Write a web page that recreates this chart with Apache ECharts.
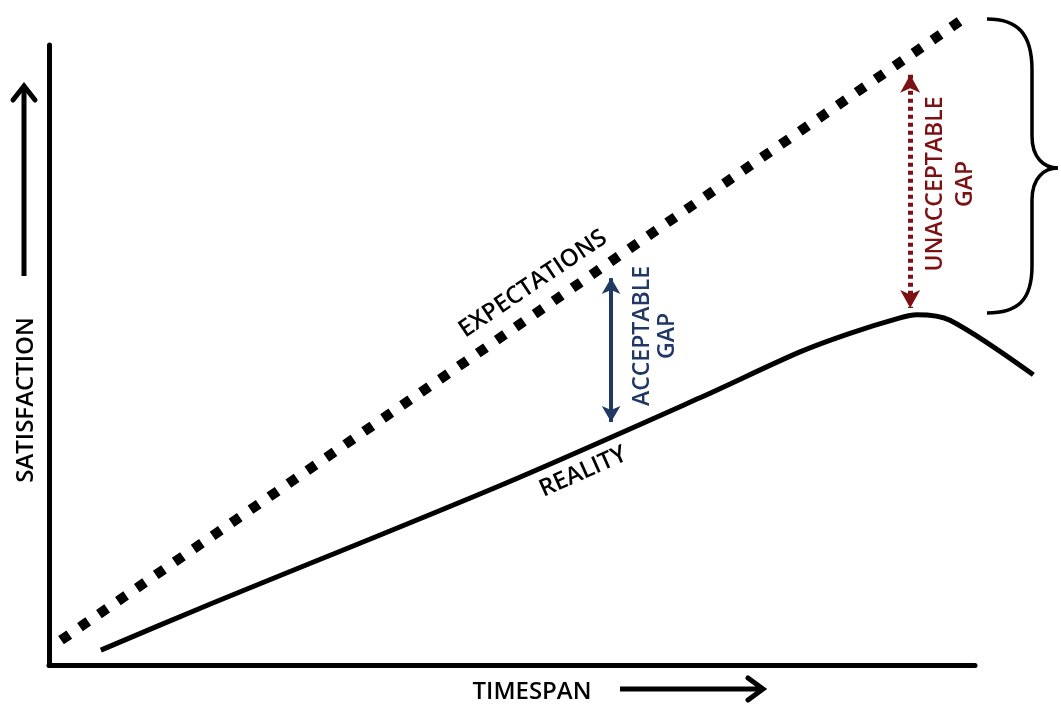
<!DOCTYPE html>
<html><head><meta charset="utf-8">
<script src="https://cdn.jsdelivr.net/npm/echarts@6/dist/echarts.min.js"></script>
<style>html,body{margin:0;padding:0;background:#fff}#c{width:1061px;height:705px}</style>
</head><body><div id="c"></div>
<script>
// Timespan (0-100) vs satisfaction (0-100), conceptual chart
const expectations = [[1.3, 4.0], [98.9, 104.4]];
const reality = [[5.6, 2.4], [16.4, 9.2], [48.8, 29.0], [70.3, 43.1], [81.1, 50.5], [86.5, 53.5], [91.9, 56.0], [93.7, 56.5], [97.3, 55.6], [106.3, 46.8]];
const acceptableGap = { x: 60.7, from: 62.4, to: 39.2 };
const unacceptableGap = { x: 93.0, from: 95.2, to: 57.6 };
const labels = { x: 'TIMESPAN', y: 'SATISFACTION', exp: 'EXPECTATIONS', real: 'REALITY', ok: 'ACCEPTABLE\nGAP', bad: 'UNACCEPTABLE\nGAP' };

const font = '"Open Sans", "Liberation Sans", sans-serif';
const F = '600 24px ' + font;
const F2 = '600 23px ' + font;
const chart = echarts.init(document.getElementById('c'), null, { renderer: 'canvas' });
const deg = Math.PI / 180;
const braceStyle = { stroke: '#000', lineWidth: 3.5, fill: null };
// grid 0 carries the visible axes (0..100); grid 1 has the same scale but extends further right
const gridLeft = 49, gridRight = 86, gridRightWide = 22, W = 1061;
const wideMax = 100 * (W - gridRightWide - gridLeft) / (W - gridRight - gridLeft);
const hiddenAxis = { show: false };
chart.setOption({
  animation: false,
  grid: [
    { left: gridLeft, right: gridRight, top: 45, bottom: 40 },
    { left: gridLeft, right: gridRightWide, top: 45, bottom: 40 }
  ],
  xAxis: [
    { type: 'value', gridIndex: 0, min: 0, max: 100, axisLine: { lineStyle: { color: '#000', width: 5 } }, axisTick: { show: false }, axisLabel: { show: false }, splitLine: { show: false } },
    Object.assign({ type: 'value', gridIndex: 1, min: 0, max: wideMax }, hiddenAxis)
  ],
  yAxis: [
    { type: 'value', gridIndex: 0, min: 0, max: 100, axisLine: { show: true, lineStyle: { color: '#000', width: 5 } }, axisTick: { show: false }, axisLabel: { show: false }, splitLine: { show: false } },
    Object.assign({ type: 'value', gridIndex: 1, min: 0, max: 100 }, hiddenAxis)
  ],
  series: [
    { type: 'line', xAxisIndex: 0, yAxisIndex: 0, data: expectations, clip: false, symbol: 'none', lineStyle: { color: '#000', width: 10, type: [10, 13], cap: 'butt' } },
    { type: 'line', xAxisIndex: 1, yAxisIndex: 1, data: reality, clip: false, symbol: 'none', smooth: 0.3, lineStyle: { color: '#000', width: 5 } },
    { type: 'line', xAxisIndex: 0, yAxisIndex: 0, data: [], markLine: { silent: true, animation: false, symbol: ['arrow', 'arrow'], symbolSize: [14, 16], label: { show: false },
        lineStyle: { color: '#1f3864', width: 4, type: 'solid' },
        data: [[{ coord: [acceptableGap.x, acceptableGap.from] }, { coord: [acceptableGap.x, acceptableGap.to] }]] } },
    { type: 'line', xAxisIndex: 0, yAxisIndex: 0, data: [], markLine: { silent: true, animation: false, symbol: ['arrow', 'arrow'], symbolSize: [15, 18], label: { show: false },
        lineStyle: { color: '#7b1113', width: 5, type: [4, 4] },
        data: [[{ coord: [unacceptableGap.x, unacceptableGap.from] }, { coord: [unacceptableGap.x, unacceptableGap.to] }]] } }
  ],
  graphic: [
    { type: 'text', x: 533, y: 284, rotation: 34 * deg, style: { text: labels.exp, font: F, fill: '#000', align: 'center', verticalAlign: 'middle' } },
    { type: 'text', x: 583, y: 472, rotation: 24 * deg, style: { text: labels.real, font: F, fill: '#000', align: 'center', verticalAlign: 'middle' } },
    { type: 'text', x: 655, y: 336, rotation: 90 * deg, style: { text: labels.ok, font: F2, lineHeight: 25, fill: '#1f3864', align: 'center', verticalAlign: 'middle' } },
    { type: 'text', x: 950, y: 184, rotation: 90 * deg, style: { text: labels.bad, font: F2, lineHeight: 30, fill: '#7b1113', align: 'center', verticalAlign: 'middle' } },
    { type: 'text', x: 26, y: 400, rotation: 90 * deg, style: { text: labels.y, font: F, fill: '#000', align: 'center', verticalAlign: 'middle' } },
    { type: 'text', x: 532, y: 692, style: { text: labels.x, font: F, fill: '#000', align: 'center', verticalAlign: 'middle' } },
    { type: 'line', shape: { x1: 24, y1: 276, x2: 24, y2: 88 }, style: { stroke: '#000', lineWidth: 5 } },
    { type: 'polyline', shape: { points: [[13, 100], [24, 86], [35, 100]] }, style: { stroke: '#000', lineWidth: 5, fill: null, lineCap: 'round' } },
    { type: 'line', shape: { x1: 620, y1: 689, x2: 762, y2: 689 }, style: { stroke: '#000', lineWidth: 5 } },
    { type: 'polyline', shape: { points: [[748, 678], [763, 689], [748, 700]] }, style: { stroke: '#000', lineWidth: 5, fill: null, lineCap: 'round' } },
    { type: 'bezierCurve', shape: { x1: 987, y1: 19, cpx1: 1018, cpy1: 19, cpx2: 1032, cpy2: 34, x2: 1032, y2: 70 }, style: braceStyle },
    { type: 'line', shape: { x1: 1032, y1: 70, x2: 1032, y2: 136 }, style: braceStyle },
    { type: 'bezierCurve', shape: { x1: 1032, y1: 136, cpx1: 1032, cpy1: 158, cpx2: 1044, cpy2: 168, x2: 1058, y2: 168 }, style: braceStyle },
    { type: 'bezierCurve', shape: { x1: 1058, y1: 168, cpx1: 1044, cpy1: 168, cpx2: 1032, cpy2: 178, x2: 1032, y2: 200 }, style: braceStyle },
    { type: 'line', shape: { x1: 1032, y1: 200, x2: 1032, y2: 266 }, style: braceStyle },
    { type: 'bezierCurve', shape: { x1: 1032, y1: 266, cpx1: 1032, cpy1: 300, cpx2: 1018, cpy2: 313, x2: 987, y2: 313 }, style: braceStyle }
  ]
});
</script></body></html>
